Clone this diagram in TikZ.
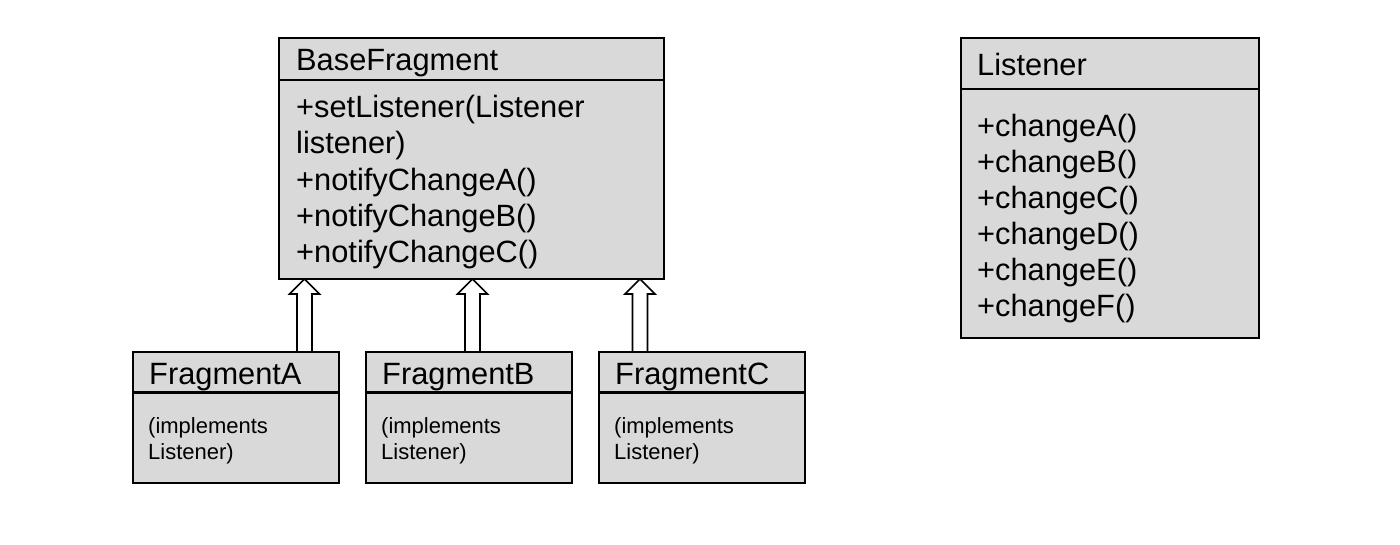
\documentclass[tikz,border=0pt]{standalone}
\usepackage{fontspec}
\setmainfont{Liberation Sans}
\usetikzlibrary{calc}
\definecolor{boxfill}{RGB}{217,217,217}
\begin{document}
\begin{tikzpicture}[x=1pt,y=-1pt,
  umlbox/.style={draw=black,line width=1.6pt,fill=boxfill},
  divider/.style={draw=black,line width=1.4pt},
  thickdiv/.style={draw=black,line width=3pt},
  big/.style={anchor=base west,inner sep=0pt,font=\fontsize{30.8}{36}\selectfont},
  small/.style={anchor=base west,inner sep=0pt,font=\fontsize{22}{26}\selectfont},
  inh/.style={draw=black,line width=1.6pt,fill=white,line join=miter}]
\useasboundingbox (0,0) rectangle (1400,544);
% boxes
\draw[umlbox] (279,38) rectangle (664,279);
\node[inner sep=0pt,minimum width=385pt,minimum height=241pt,anchor=north west] (base) at (279,38) {};
\draw[divider] (279,80) -- (664,80);
\node[big] (bt) at (296,70) {BaseFragment};
\node[big] (b1) at (296,117) {+setListener(Listener};
\node[big] (b2) at (296,153) {listener)};
\node[big] (b3) at (296,190) {+notifyChangeA()};
\node[big] (b4) at (296,226) {+notifyChangeB()};
\node[big] (b5) at (296,262) {+notifyChangeC()};

\draw[umlbox] (961,38) rectangle (1259,338);
\node[inner sep=0pt,minimum width=298pt,minimum height=300pt,anchor=north west] (lis) at (961,38) {};
\draw[divider] (961,89) -- (1259,89);
\node[big] (lt) at (977,75) {Listener};
\node[big] (l1) at (977,136) {+changeA()};
\node[big] (l2) at (977,172) {+changeB()};
\node[big] (l3) at (977,208) {+changeC()};
\node[big] (l4) at (977,244) {+changeD()};
\node[big] (l5) at (977,280) {+changeE()};
\node[big] (l6) at (977,316) {+changeF()};

% fragments
\foreach \n/\x/\t in {fa/133/FragmentA,fb/366/FragmentB,fc/599/FragmentC}{
  \draw[umlbox] (\x,352) rectangle ++(206,131);
  \node[inner sep=0pt,minimum width=206pt,minimum height=131pt,anchor=north west] (\n) at (\x,352) {};
  \draw[thickdiv] (\x,392) -- ++(206,0);
  \node[big] (\n t) at ($(\x,384)+(16,0)$) {\t};
  \node[small] (\n 1) at ($(\x,433)+(15,0)$) {(implements};
  \node[small] (\n 2) at ($(\x,459)+(15,0)$) {Listener)};
}
% inheritance arrows
\coordinate (ta) at (304.5,279);
\coordinate (tb) at (472.5,279);
\coordinate (tc) at (640,279);
\foreach \c/\f in {ta/fa,tb/fb,tc/fc}{
  \coordinate (\c r) at ($(\c)+(7.5,0)$);
  \coordinate (\c l) at ($(\c)+(-7.5,0)$);
  \draw[inh] (\c) -- ++(15,15) -- ++(-7.5,0) -- (\c r |- \f.north) -- (\c l |- \f.north) -- ($(\c l)+(0,15)$) -- ++(-7.5,0) -- cycle;
}
\end{tikzpicture}
\end{document}
